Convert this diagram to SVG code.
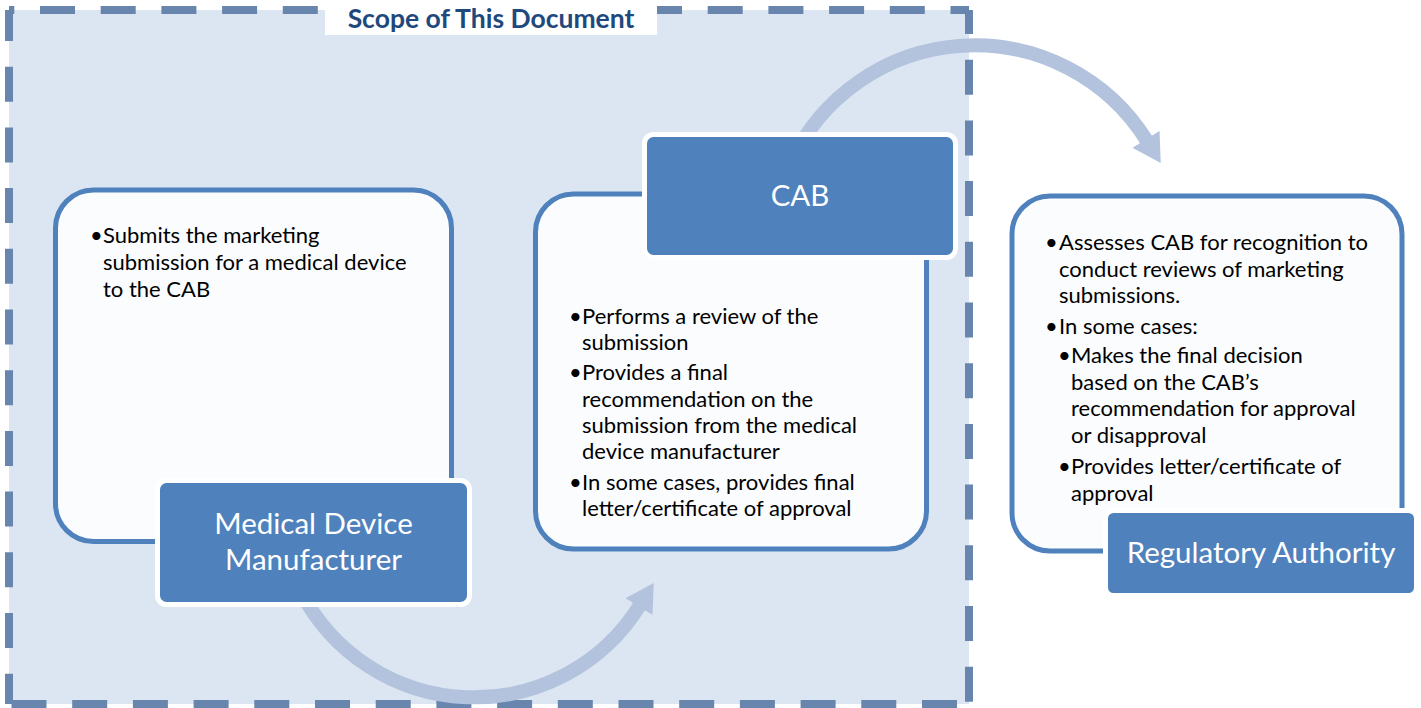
<svg xmlns="http://www.w3.org/2000/svg" width="1421" height="708" viewBox="0 0 1421 708">
<style>
.frame{stroke:#6785ad;stroke-width:8;fill:none;stroke-dasharray:35 25.7}
.content{fill:#fafcfe;stroke:#4f81bd;stroke-width:5}
.label{fill:#4f81bd;stroke:#ffffff;stroke-width:5}
.arrow{fill:none;stroke:#b3c3de;stroke-width:14}
.body{font-family:Lato,"Open Sans",sans-serif;font-size:22px;fill:#000}
.lbl{font-family:Lato,"Open Sans",sans-serif;font-size:29.5px;fill:#ffffff;text-anchor:middle}
.title{font-family:Lato,"Open Sans",sans-serif;font-size:26.5px;font-weight:bold;fill:#1f497d;text-anchor:middle}
</style>
<defs>
<marker id="head" markerUnits="userSpaceOnUse" markerWidth="40" markerHeight="40" refX="2" refY="16" orient="auto">
<path d="M0,0 L28,16 L0,32 Z" fill="#b3c3de"/>
</marker>
</defs>
<g id="scope">
<rect x="9" y="10" width="960" height="694" fill="#dce6f2"/>
<path class="frame" d="M9,10 H969" stroke-dashoffset="29.7"/>
<path class="frame" d="M969,10 V704" stroke-dashoffset="11"/>
<path class="frame" d="M9,704 H969" stroke-dashoffset="-2.5"/>
<path class="frame" d="M9,10 V704" stroke-dashoffset="4"/>
<rect x="325" y="3" width="332" height="32" fill="#ffffff"/>
<text class="title" x="491" y="28">Scope of This Document</text>
</g>
<g id="connectors">
<path class="arrow" d="M300,590 A195,195 0 0 0 640,605" marker-end="url(#head)"/>
<path class="arrow" d="M790,164 A203,203 0 0 1 1147,141" marker-end="url(#head)"/>
</g>
<g id="mdm">
<rect class="content" x="55.5" y="190" width="396" height="351.5" rx="38"/>
<text class="body" x="90" y="243">•</text>
<text class="body" x="103" y="243">Submits the marketing</text>
<text class="body" x="103" y="270">submission for a medical device</text>
<text class="body" x="103" y="297">to the CAB</text>
<rect class="label" x="157.5" y="480.5" width="312" height="124" rx="9"/>
<text class="lbl" x="313.5" y="534">Medical Device</text>
<text class="lbl" x="313.5" y="570">Manufacturer</text>
</g>
<g id="cab">
<rect class="content" x="535.5" y="194" width="391" height="355" rx="38"/>
<text class="body" x="569" y="324">•</text>
<text class="body" x="582" y="324">Performs a review of the</text>
<text class="body" x="582" y="350">submission</text>
<text class="body" x="569" y="380">•</text>
<text class="body" x="582" y="380">Provides a final</text>
<text class="body" x="582" y="407">recommendation on the</text>
<text class="body" x="582" y="433">submission from the medical</text>
<text class="body" x="582" y="459">device manufacturer</text>
<text class="body" x="569" y="490">•</text>
<text class="body" x="582" y="490">In some cases, provides final</text>
<text class="body" x="582" y="516">letter/certificate of approval</text>
<rect class="label" x="644.5" y="134.5" width="311" height="123" rx="9"/>
<text class="lbl" x="800" y="206">CAB</text>
</g>
<g id="ra">
<rect class="content" x="1012" y="196" width="390" height="355" rx="38"/>
<text class="body" x="1045" y="250">•</text>
<text class="body" x="1059" y="250">Assesses CAB for recognition to</text>
<text class="body" x="1059" y="277">conduct reviews of marketing</text>
<text class="body" x="1059" y="303">submissions.</text>
<text class="body" x="1045" y="334">•</text>
<text class="body" x="1059" y="334">In some cases:</text>
<text class="body" x="1058" y="363">•</text>
<text class="body" x="1071" y="363">Makes the final decision</text>
<text class="body" x="1071" y="390">based on the CAB’s</text>
<text class="body" x="1071" y="416">recommendation for approval</text>
<text class="body" x="1071" y="443">or disapproval</text>
<text class="body" x="1058" y="474">•</text>
<text class="body" x="1071" y="474">Provides letter/certificate of</text>
<text class="body" x="1071" y="501">approval</text>
<rect class="label" x="1105.5" y="510.5" width="311" height="85" rx="8"/>
<text class="lbl" x="1261" y="563">Regulatory Authority</text>
</g>
</svg>
